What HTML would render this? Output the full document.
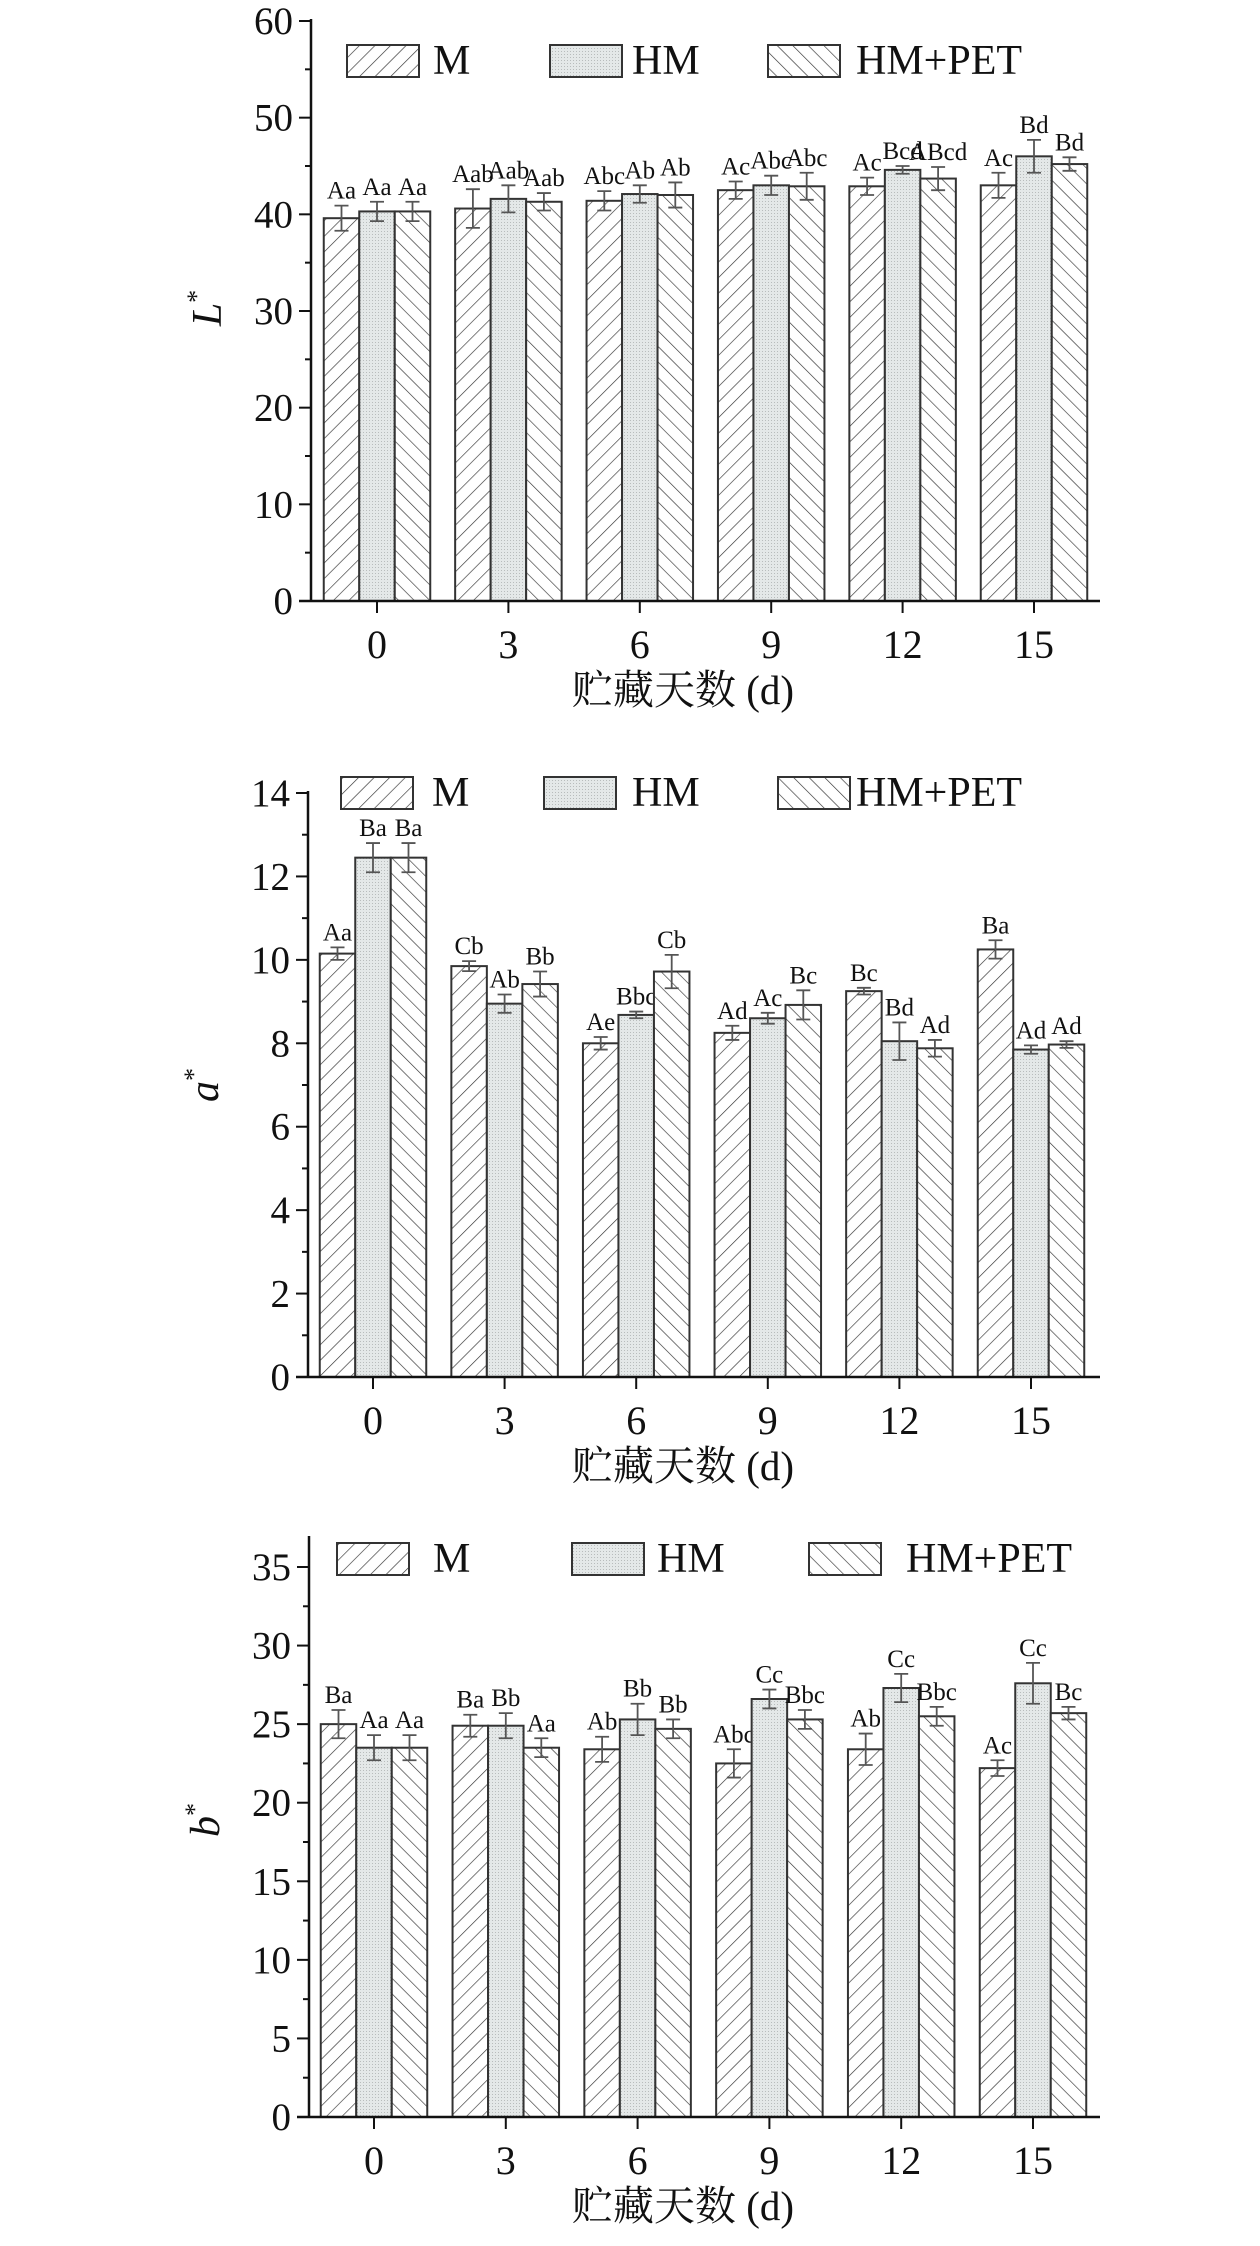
<!DOCTYPE html>
<html><head><meta charset="utf-8">
<style>
html,body{margin:0;padding:0;background:#fff;}
svg{display:block;}
text{font-family:"Liberation Serif","Noto Serif CJK SC","Noto Sans CJK SC",serif;fill:#111;}
</style></head>
<body>
<svg id="fig" width="1260" height="2246" viewBox="0 0 1260 2246" xmlns="http://www.w3.org/2000/svg">
<defs>
<pattern id="hatchF" patternUnits="userSpaceOnUse" width="11" height="11" patternTransform="rotate(45)">
<rect width="11" height="11" fill="#fff"/><line x1="0" y1="0" x2="0" y2="11" stroke="#333" stroke-width="1.3"/></pattern>
<pattern id="hatchB" patternUnits="userSpaceOnUse" width="11" height="11" patternTransform="rotate(-45)">
<rect width="11" height="11" fill="#fff"/><line x1="0" y1="0" x2="0" y2="11" stroke="#333" stroke-width="1.3"/></pattern>
<pattern id="dots" patternUnits="userSpaceOnUse" width="3" height="3">
<rect width="3" height="3" fill="#e4e8e8"/><rect width="1" height="1" fill="#b8bcbc"/></pattern>
</defs>
</svg>
<script>
// Shared
const days = ["0","3","6","9","12","15"];
const seriesNames = ["M","HM","HM+PET"];

// Chart L*
const L_M = [39.6,40.6,41.4,42.5,42.9,43.0];
const L_HM = [40.3,41.6,42.1,43.0,44.6,46.0];
const L_PET = [40.3,41.3,42.0,42.9,43.7,45.2];
const L_errM = [1.3,2.0,1.0,0.9,0.9,1.3];
const L_errHM = [1.0,1.4,0.9,1.0,0.4,1.7];
const L_errPET = [1.0,0.9,1.3,1.4,1.2,0.7];
const L_labM = ["Aa","Aab","Abc","Ac","Ac","Ac"];
const L_labHM = ["Aa","Aab","Ab","Abc","Bcd","Bd"];
const L_labPET = ["Aa","Aab","Ab","Abc","ABcd","Bd"];
const L_ticks = [0,10,20,30,40,50,60];

// Chart a*
const A_M = [10.15,9.85,8.0,8.25,9.25,10.25];
const A_HM = [12.45,8.95,8.68,8.6,8.05,7.85];
const A_PET = [12.45,9.42,9.72,8.92,7.88,7.97];
const A_errM = [0.15,0.12,0.15,0.17,0.08,0.22];
const A_errHM = [0.35,0.22,0.08,0.13,0.45,0.1];
const A_errPET = [0.35,0.3,0.4,0.35,0.2,0.08];
const A_labM = ["Aa","Cb","Ae","Ad","Bc","Ba"];
const A_labHM = ["Ba","Ab","Bbc","Ac","Bd","Ad"];
const A_labPET = ["Ba","Bb","Cb","Bc","Ad","Ad"];
const A_ticks = [0,2,4,6,8,10,12,14];

// Chart b*
const B_M = [25.0,24.9,23.4,22.5,23.4,22.2];
const B_HM = [23.5,24.9,25.3,26.6,27.3,27.6];
const B_PET = [23.5,23.5,24.7,25.3,25.5,25.7];
const B_errM = [0.9,0.7,0.8,0.9,1.0,0.5];
const B_errHM = [0.8,0.8,1.0,0.6,0.9,1.3];
const B_errPET = [0.8,0.6,0.6,0.6,0.6,0.4];
const B_labM = ["Ba","Ba","Ab","Abc","Ab","Ac"];
const B_labHM = ["Aa","Bb","Bb","Cc","Cc","Cc"];
const B_labPET = ["Aa","Aa","Bb","Bbc","Bbc","Bc"];
const B_ticks = [0,5,10,15,20,25,30,35];

const NS = "http://www.w3.org/2000/svg";
const svg = document.getElementById('fig');
function mk(tag, attrs, parent, txt){
  const e = document.createElementNS(NS, tag);
  for (const k in attrs) e.setAttribute(k, attrs[k]);
  if (txt !== undefined) e.textContent = txt;
  parent.appendChild(e);
  return e;
}
const fills = ["url(#hatchF)","url(#dots)","url(#hatchB)"];

function drawChart(cfg){
  const g = mk('g', {}, svg);
  
  
  const ymax = cfg.ticks[cfg.ticks.length-1];
  const yS = v => cfg.y0 - (v/ymax)*(cfg.y0-cfg.yTop);
  const xS = i => cfg.x0 + i*cfg.dx;
  const bw = 35.5;
  // minor ticks
  for (let i=0;i<cfg.ticks.length-1;i++){
    const m = (cfg.ticks[i]+cfg.ticks[i+1])/2;
    const t = mk('line',{x1:cfg.ax-6,x2:cfg.ax,y1:yS(m),y2:yS(m),stroke:'#111','stroke-width':2},g);
    
    
  }
  cfg.ticks.forEach(v=>{
    const t = mk('line',{x1:cfg.ax-12,x2:cfg.ax,y1:yS(v),y2:yS(v),stroke:'#111','stroke-width':2},g);
    
    
    const l = mk('text',{x:cfg.ax-18,y:yS(v)+13,'font-size':39,'text-anchor':'end'},g,String(v));
    
    
  });
  // bars
  const vals=[cfg.M,cfg.HM,cfg.PET], errs=[cfg.eM,cfg.eHM,cfg.ePET], labs=[cfg.lM,cfg.lHM,cfg.lPET];
  days.forEach((d,i)=>{
    for (let s=0;s<3;s++){
      const cx = xS(i) + (s-1)*bw;
      const v = vals[s][i], e = errs[s][i];
      const r = mk('rect',{x:cx-bw/2,y:yS(v),width:bw,height:cfg.y0-yS(v),fill:fills[s],stroke:'#333','stroke-width':2},g);
      
      
      const eb = mk('path',{d:`M${cx-7},${yS(v+e)}H${cx+7}M${cx},${yS(v+e)}V${yS(v-e)}M${cx-7},${yS(v-e)}H${cx+7}`,stroke:'#555','stroke-width':1.8,fill:'none'},g);
      
      
      const tl = mk('text',{x:cx,y:yS(v+e)-7,'font-size':25,'text-anchor':'middle'},g,labs[s][i]);
      
      
    }
    const xt = mk('line',{x1:xS(i),x2:xS(i),y1:cfg.y0,y2:cfg.y0+12,stroke:'#111','stroke-width':2},g);
    
    
    const xl = mk('text',{x:xS(i),y:cfg.y0+57,'font-size':40,'text-anchor':'middle'},g,d);
    
    
  });
  // axes
  const ya = mk('line',{x1:cfg.ax,x2:cfg.ax,y1:cfg.axTop,y2:cfg.y0+1,stroke:'#111','stroke-width':2.5},g);
  
  
  const xa = mk('line',{x1:cfg.ax-12,x2:1100,y1:cfg.y0,y2:cfg.y0,stroke:'#111','stroke-width':2.5},g);
  
  
  // titles
  const xtitle = mk('text',{x:683,y:cfg.y0+103,'font-size':41,'text-anchor':'middle'},g,'贮藏天数 (d)');
  
  
  const yt = mk('text',{x:0,y:0,'font-size':42,'font-style':'italic','text-anchor':'middle',transform:`translate(${cfg.ax-90},${cfg.yLab}) rotate(-90)`},g);
  
  
  mk('tspan',{},yt,cfg.ylabel);
  mk('tspan',{'font-size':26,'font-style':'normal',dy:-16},yt,'*');
  // legend
  for (let s=0;s<3;s++){
    const lg = mk('g',{},g);
    
    
    mk('rect',{x:cfg.legX[s],y:cfg.legY,width:72,height:32,fill:fills[s],stroke:'#333','stroke-width':2},lg);
    mk('text',{x:cfg.legTX[s],y:cfg.legY+29,'font-size':42},lg,seriesNames[s]);
  }
}

drawChart({name:'chart-lightness',ax:311,y0:601,yTop:21,axTop:19,x0:377,dx:131.4,ticks:L_ticks,
  M:L_M,HM:L_HM,PET:L_PET,eM:L_errM,eHM:L_errHM,ePET:L_errPET,lM:L_labM,lHM:L_labHM,lPET:L_labPET,
  ylabel:'L',yLab:308,legY:45,legX:[347,550,768],legTX:[433,632,856]});
drawChart({name:'chart-redness',ax:308,y0:1377,yTop:793,axTop:791,x0:373,dx:131.6,ticks:A_ticks,
  M:A_M,HM:A_HM,PET:A_PET,eM:A_errM,eHM:A_errHM,ePET:A_errPET,lM:A_labM,lHM:A_labHM,lPET:A_labPET,
  ylabel:'a',yLab:1085,legY:777,legX:[341,544,778],legTX:[432,632,856]});
drawChart({name:'chart-yellowness',ax:309,y0:2117,yTop:1567,axTop:1536,x0:374,dx:131.8,ticks:B_ticks,
  M:B_M,HM:B_HM,PET:B_PET,eM:B_errM,eHM:B_errHM,ePET:B_errPET,lM:B_labM,lHM:B_labHM,lPET:B_labPET,
  ylabel:'b',yLab:1820,legY:1543,legX:[337,572,809],legTX:[433,657,906]});
</script>
</body></html>
